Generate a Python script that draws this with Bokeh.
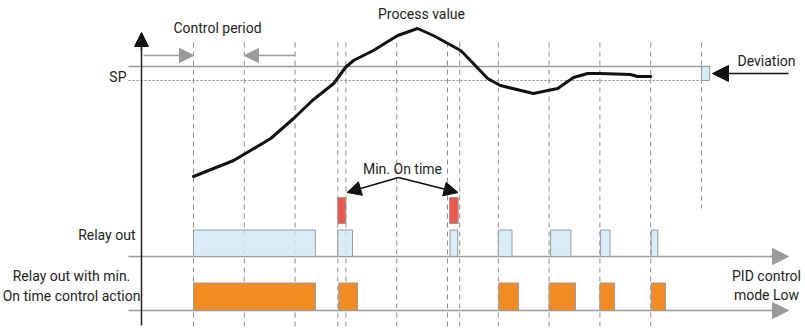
from bokeh.plotting import figure
from bokeh.models import Range1d, Arrow, NormalHead
from bokeh.core.properties import value
from bokeh.embed import file_html
from bokeh.resources import INLINE

# ---- data (time in control periods, level in diagram units, downward) ----
PERIOD_EDGES = [0, 1, 2, 3, 4, 5, 6, 7, 8, 9, 10]
MIN_ON_MARKS = [2.84, 5.24]

PV_T = [0.00, 0.79, 1.52, 1.97, 2.34, 2.76, 2.99, 3.15, 3.54, 4.02, 4.41, 4.72,
        5.26, 5.49, 5.79, 6.04, 6.69, 7.17, 7.48, 7.76, 8.01, 8.60, 8.74, 9.00]
PV_Y = [176, 160, 138, 118, 100, 83, 67, 60, 50, 35, 28, 35,
        50, 62, 78, 85, 93, 88, 77, 73, 73, 74, 76, 76]

SP_LEVEL = 66
SP_LOW_LEVEL = 80

RELAY_ON = [0.00, 2.84, 5.05, 6.00, 7.03, 8.01, 9.01]
RELAY_OFF = [2.40, 3.13, 5.20, 6.27, 7.43, 8.20, 9.14]

MINON_ON = [0.00, 2.86, 6.01, 7.00, 8.00, 9.01]
MINON_OFF = [2.40, 3.23, 6.40, 7.52, 8.29, 9.29]

MIN_ON_START = [2.84, 5.04]
MIN_ON_END = [3.00, 5.21]

LABELS_CENTER = ["Control period", "Process value", "Min. On time", "Deviation"]
LABELS_RIGHT = ["SP", "Relay out"]
LABELS_ROWS = ["Relay out with min.", "On time control action", "PID control", "mode Low"]

# ---- layout helpers ----
X0 = 193.0
PXP = 50.8
def tx(px):
    return (px - X0) / PXP

FONT = "Roboto"
TXT = "#231f20"
GRAY = "#9a9a9a"
DASH = "#8e8e8e"

p = figure(width=805, height=330, output_backend="svg", toolbar_location=None,
           x_range=Range1d(tx(0), tx(805)), y_range=Range1d(330, 0),
           x_axis_location=None, y_axis_location=None, min_border=0)
p.grid.visible = False
p.outline_line_color = None
p.background_fill_color = "white"

# dashed period lines
full = PERIOD_EDGES[:-1] + MIN_ON_MARKS
p.segment(x0=full, x1=full, y0=[42] * len(full), y1=[328] * len(full),
          line_color=DASH, line_dash="5 4", line_width=1)
p.segment(x0=[PERIOD_EDGES[-1]], x1=[PERIOD_EDGES[-1]], y0=[42], y1=[208],
          line_color=DASH, line_dash="5 4", line_width=1)

# SP lines
p.segment(x0=[tx(128)], x1=[tx(710)], y0=[SP_LEVEL], y1=[SP_LEVEL],
          line_color=GRAY, line_width=1.5)
p.segment(x0=[tx(128)], x1=[PERIOD_EDGES[-1]], y0=[SP_LOW_LEVEL], y1=[SP_LOW_LEVEL],
          line_color="#888888", line_dash="2 2", line_width=1)

# deviation box
p.quad(left=[PERIOD_EDGES[-1]], right=[PERIOD_EDGES[-1] + 0.16],
       top=[SP_LEVEL], bottom=[SP_LOW_LEVEL],
       fill_color="#d4ecf9", line_color=GRAY, line_width=1)

# baselines
for yb in (256, 310):
    p.segment(x0=[tx(128)], x1=[tx(776)], y0=[yb], y1=[yb], line_color=GRAY, line_width=1.5)
    p.add_layout(Arrow(end=NormalHead(size=16, fill_color=GRAY, line_color=GRAY),
                       x_start=tx(770), y_start=yb, x_end=tx(788), y_end=yb,
                       line_color=GRAY, line_width=1.5))

# vertical axis
p.segment(x0=[tx(141)], x1=[tx(141)], y0=[44], y1=[325], line_color="#222222", line_width=1.5)
p.add_layout(Arrow(end=NormalHead(size=14, fill_color="#111111", line_color="#111111"),
                   x_start=tx(141), y_start=50, x_end=tx(141), y_end=32,
                   line_color="#222222", line_width=1.5))

# relay bars
p.quad(left=RELAY_ON, right=RELAY_OFF, top=[229.5] * len(RELAY_ON), bottom=[256] * len(RELAY_ON),
       fill_color="#cfe9f8", fill_alpha=0.8, line_color=GRAY, line_width=1)
p.quad(left=MINON_ON, right=MINON_OFF, top=[282.5] * len(MINON_ON), bottom=[310] * len(MINON_ON),
       fill_color="#f28a22", line_color=GRAY, line_width=1)
p.quad(left=MIN_ON_START, right=MIN_ON_END, top=[197] * 2, bottom=[223] * 2,
       fill_color="#f0564c", line_color=GRAY, line_width=1)

# process value curve
p.line(PV_T, PV_Y, line_color="#111111", line_width=3, line_join="round", line_cap="round")

# control period arrows
p.segment(x0=[tx(143), tx(257)], x1=[tx(182), tx(295)], y0=[55, 55], y1=[55, 55],
          line_color=GRAY, line_width=1.5)
p.add_layout(Arrow(end=NormalHead(size=14, fill_color=GRAY, line_color=GRAY),
                   x_start=tx(175), y_start=55, x_end=tx(193), y_end=55, line_color=GRAY, line_width=0))
p.add_layout(Arrow(end=NormalHead(size=14, fill_color=GRAY, line_color=GRAY),
                   x_start=tx(262), y_start=55, x_end=tx(244), y_end=55, line_color=GRAY, line_width=0))

# deviation arrow
p.add_layout(Arrow(end=NormalHead(size=16, fill_color="#111111", line_color="#111111"),
                   x_start=tx(788), y_start=73, x_end=tx(712), y_end=73,
                   line_color="#111111", line_width=1.5))

# min on time arrows
for xe in (346.5, 457.5):
    p.add_layout(Arrow(end=NormalHead(size=14, fill_color="#111111", line_color="#111111"),
                       x_start=tx(398), y_start=177, x_end=tx(xe), y_end=192,
                       line_color="#111111", line_width=1.5))

# texts
def txt(xs, ys, texts, align):
    p.text(x=[tx(v) for v in xs], y=ys, text=texts, text_font=value(FONT),
           text_font_size="14px", text_align=align, text_baseline="middle",
           text_color=TXT)

txt([217, 421, 402, 766], [27, 13, 168, 60], LABELS_CENTER, "center")
txt([126, 135], [76, 234], LABELS_RIGHT, "right")
txt([71, 71, 766, 766], [275, 295, 275, 294], LABELS_ROWS, "center")

open("out.html", "w").write(file_html(p, INLINE))
